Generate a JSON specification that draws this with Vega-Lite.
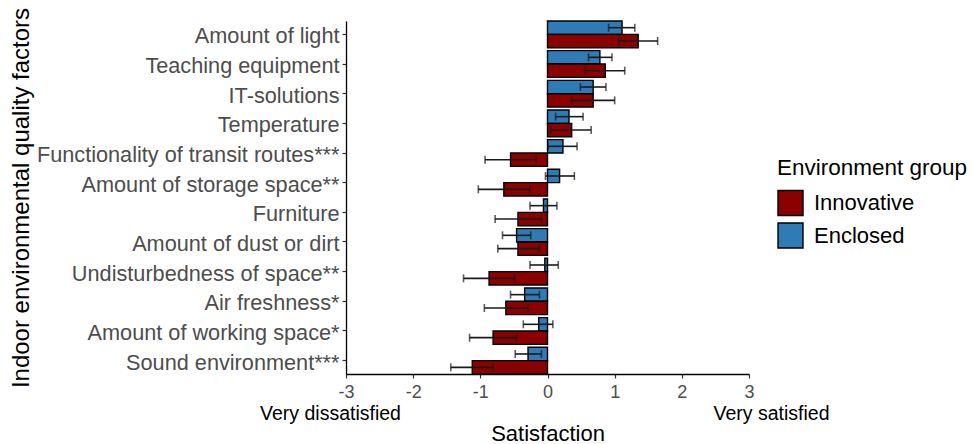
{
  "$schema": "https://vega.github.io/schema/vega-lite/v6.json",
  "width": 403,
  "height": 353,
  "autosize": "none",
  "padding": {"left": 346, "top": 21, "right": 224, "bottom": 70},
  "background": "white",
  "config": {
    "font": "Liberation Sans",
    "view": {"stroke": null},
    "axis": {"grid": false, "domainColor": "black", "domainWidth": 1.3, "tickColor": "#333333", "tickWidth": 1.2, "labelColor": "#4d4d4d", "titleColor": "black", "titleFontWeight": "normal"}
  },
  "data": {"values": [
    {"factor": "Amount of light", "group": "Enclosed", "mean": 1.11, "lo": 0.91, "hi": 1.30},
    {"factor": "Amount of light", "group": "Innovative", "mean": 1.35, "lo": 1.06, "hi": 1.64},
    {"factor": "Teaching equipment", "group": "Enclosed", "mean": 0.78, "lo": 0.61, "hi": 0.96},
    {"factor": "Teaching equipment", "group": "Innovative", "mean": 0.86, "lo": 0.56, "hi": 1.15},
    {"factor": "IT-solutions", "group": "Enclosed", "mean": 0.68, "lo": 0.49, "hi": 0.87},
    {"factor": "IT-solutions", "group": "Innovative", "mean": 0.68, "lo": 0.36, "hi": 1.00},
    {"factor": "Temperature", "group": "Enclosed", "mean": 0.32, "lo": 0.12, "hi": 0.53},
    {"factor": "Temperature", "group": "Innovative", "mean": 0.36, "lo": 0.05, "hi": 0.65},
    {"factor": "Functionality of transit routes***", "group": "Enclosed", "mean": 0.23, "lo": 0.01, "hi": 0.44},
    {"factor": "Functionality of transit routes***", "group": "Innovative", "mean": -0.55, "lo": -0.93, "hi": -0.17},
    {"factor": "Amount of storage space**", "group": "Enclosed", "mean": 0.18, "lo": -0.03, "hi": 0.40},
    {"factor": "Amount of storage space**", "group": "Innovative", "mean": -0.65, "lo": -1.03, "hi": -0.26},
    {"factor": "Furniture", "group": "Enclosed", "mean": -0.06, "lo": -0.26, "hi": 0.14},
    {"factor": "Furniture", "group": "Innovative", "mean": -0.44, "lo": -0.78, "hi": -0.09},
    {"factor": "Amount of dust or dirt", "group": "Enclosed", "mean": -0.46, "lo": -0.67, "hi": -0.25},
    {"factor": "Amount of dust or dirt", "group": "Innovative", "mean": -0.44, "lo": -0.74, "hi": -0.12},
    {"factor": "Undisturbedness of space**", "group": "Enclosed", "mean": -0.04, "lo": -0.26, "hi": 0.16},
    {"factor": "Undisturbedness of space**", "group": "Innovative", "mean": -0.87, "lo": -1.25, "hi": -0.49},
    {"factor": "Air freshness*", "group": "Enclosed", "mean": -0.34, "lo": -0.55, "hi": -0.12},
    {"factor": "Air freshness*", "group": "Innovative", "mean": -0.62, "lo": -0.94, "hi": -0.29},
    {"factor": "Amount of working space*", "group": "Enclosed", "mean": -0.13, "lo": -0.36, "hi": 0.08},
    {"factor": "Amount of working space*", "group": "Innovative", "mean": -0.81, "lo": -1.16, "hi": -0.46},
    {"factor": "Sound environment***", "group": "Enclosed", "mean": -0.29, "lo": -0.48, "hi": -0.09},
    {"factor": "Sound environment***", "group": "Innovative", "mean": -1.12, "lo": -1.44, "hi": -0.81}
  ]},
  "encoding": {
    "y": {
      "field": "factor", "type": "nominal",
      "sort": ["Amount of light", "Teaching equipment", "IT-solutions", "Temperature", "Functionality of transit routes***", "Amount of storage space**", "Furniture", "Amount of dust or dirt", "Undisturbedness of space**", "Air freshness*", "Amount of working space*", "Sound environment***"],
      "scale": {"paddingInner": 0.1, "paddingOuter": 0},
      "axis": {"title": "Indoor environmental quality factors", "titleFontSize": 24, "labelFontSize": 21.7, "labelLimit": 0, "labelOffset": 2, "titleX": -318, "titleY": 176.5, "titleBaseline": "alphabetic", "titleAngle": 270, "tickSize": 4, "labelPadding": 3}
    },
    "yOffset": {"field": "group", "type": "nominal", "sort": ["Enclosed", "Innovative"], "scale": {"paddingInner": 0, "paddingOuter": 0}}
  },
  "resolve": {"axis": {"x": "independent"}},
  "layer": [
    {
      "mark": {"type": "bar", "stroke": "black", "strokeWidth": 1.4},
      "encoding": {
        "x": {
          "field": "mean", "type": "quantitative",
          "scale": {"domain": [-3, 3], "nice": false, "zero": false},
          "axis": {
            "orient": "bottom",
            "values": [-3, -2, -1, 0, 1, 2, 3],
            "labelExpr": "'' + datum.value",
            "labelFontSize": 18, "labelBaseline": "alphabetic", "tickSize": 4, "labelPadding": 19.5,
            "labelFlush": false, "labelOverlap": false,
            "title": null
          }
        },
        "x2": {"datum": 0},
        "fill": {
          "field": "group", "type": "nominal",
          "scale": {"domain": ["Innovative", "Enclosed"], "range": ["#8b0000", "#2e7bb6"]},
          "legend": {
            "title": "Environment group", "titleFontSize": 22.5, "titleFontWeight": "normal", "titleColor": "black", "titleLimit": 400,
            "labelFontSize": 22, "labelColor": "black", "symbolType": "square", "symbolSize": 625,
            "symbolStrokeColor": "black", "symbolStrokeWidth": 1.4, "rowPadding": 1.5, "titlePadding": 10, "labelOffset": 10,
            "orient": "none", "legendX": 431, "legendY": 136
          }
        }
      }
    },
    {
      "mark": {"type": "rule", "color": "#1a1a1a", "strokeWidth": 1.6},
      "encoding": {
        "x": {
          "field": "lo", "type": "quantitative",
          "axis": {
            "orient": "bottom",
            "values": [-3, 3],
            "labelExpr": "datum.value < 0 ? 'Very dissatisfied' : 'Very satisfied'",
            "labelOffset": {"condition": {"test": "datum.value < 0", "value": -16}, "value": 22},
            "domain": false, "ticks": false,
            "labelFontSize": 19.5, "labelColor": "black", "labelBaseline": "alphabetic", "labelPadding": 45,
            "labelFlush": false, "labelOverlap": false, "labelBound": false,
            "title": "Satisfaction", "titleFontSize": 22, "titleBaseline": "alphabetic", "titleY": 66
          }
        },
        "x2": {"field": "hi"}
      }
    },
    {
      "mark": {"type": "tick", "color": "#1a1a1a", "thickness": 1.6, "size": 8},
      "encoding": {"x": {"field": "lo", "type": "quantitative", "axis": null}}
    },
    {
      "mark": {"type": "tick", "color": "#1a1a1a", "thickness": 1.6, "size": 8},
      "encoding": {"x": {"field": "hi", "type": "quantitative", "axis": null}}
    }
  ]
}
